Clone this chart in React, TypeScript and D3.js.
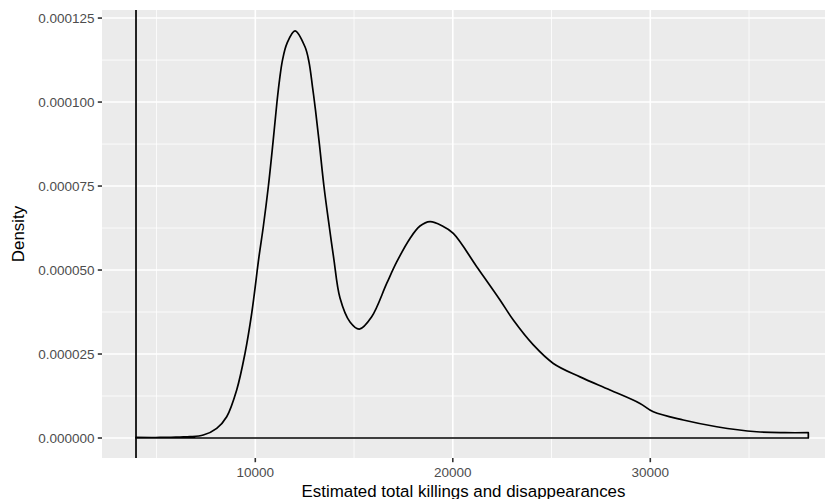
import React from "react";
import * as d3 from "d3";

const densityX = [3960, 5175, 6187, 6694, 7367, 8046, 8552, 9058, 9479, 9818, 10187, 10405, 10659, 10891, 11099, 11226, 11377, 11605, 12010, 12516, 12719, 12896, 13048, 13241, 13479, 13747, 13970, 14289, 14795, 15266, 15894, 16653, 17160, 17833, 18339, 18846, 19453, 20026, 21211, 22390, 23064, 24077, 25090, 26441, 27960, 29479, 30153, 31672, 33363, 35388, 36821, 38002];
const densityY = [0.2, 0.16, 0.3, 0.39, 0.89, 2.89, 6.34, 14.3, 25.2, 37.1, 53.96, 62.88, 74.79, 87.7, 100.08, 106.54, 112.49, 117.46, 121.21, 116.45, 111.9, 104.55, 97.61, 87.7, 74.79, 62.88, 53.57, 41.66, 34.52, 32.4, 36.1, 46.0, 52.4, 59.4, 63.1, 64.4, 63.2, 60.9, 51.0, 41.1, 35.1, 27.7, 22.2, 18.2, 14.3, 10.3, 7.8, 5.36, 3.36, 1.87, 1.58, 1.58].map((v) => v * 1e-6);

const xMajorTicks = [10000, 20000, 30000];
const xMinorTicks = [5000, 15000, 25000, 35000];
const yMajorTicks = [0, 0.000025, 0.00005, 0.000075, 0.0001, 0.000125];
const yMinorTicks = [0.0000125, 0.0000375, 0.0000625, 0.0000875, 0.0001125];
const vlineValue = 3960;

const xTitle = "Estimated total killings and disappearances";
const yTitle = "Density";

export default function App() {
  const W = 831, H = 499;
  const left = 102, right = 825, top = 10, bottom = 458;
  const x = d3.scaleLinear().domain([2238, 38846]).range([left, right]);
  const y = d3.scaleLinear().domain([-5.95e-6, 127.4e-6]).range([bottom, top]);

  const pts: [number, number][] = densityX.map((d, i) => [d, densityY[i]]);
  const line = d3
    .line<[number, number]>()
    .x((d) => x(d[0]))
    .y((d) => y(d[1]))
    .curve(d3.curveCatmullRom.alpha(0.5));
  const xmin = densityX[0];
  const xmax = densityX[densityX.length - 1];
  const pathD = `${line(pts)}L${x(xmax)},${y(0)}L${x(xmin)},${y(0)}Z`;

  const font = "'Liberation Sans', Arial, Helvetica, sans-serif";

  return (
    <svg width={W} height={H} style={{ position: "absolute", left: 0, top: 0, background: "#fff" }} fontFamily={font}>
      <rect x={left} y={top} width={right - left} height={bottom - top} fill="#EBEBEB" />
      {yMinorTicks.map((t) => (
        <line key={"ym" + t} x1={left} x2={right} y1={y(t)} y2={y(t)} stroke="#fff" strokeWidth={0.8} />
      ))}
      {xMinorTicks.map((t) => (
        <line key={"xm" + t} x1={x(t)} x2={x(t)} y1={top} y2={bottom} stroke="#fff" strokeWidth={0.8} />
      ))}
      {yMajorTicks.map((t) => (
        <line key={"yM" + t} x1={left} x2={right} y1={y(t)} y2={y(t)} stroke="#fff" strokeWidth={1.6} />
      ))}
      {xMajorTicks.map((t) => (
        <line key={"xM" + t} x1={x(t)} x2={x(t)} y1={top} y2={bottom} stroke="#fff" strokeWidth={1.6} />
      ))}
      <path d={pathD} fill="none" stroke="#000" strokeWidth={1.7} strokeLinejoin="round" />
      <line x1={x(vlineValue)} x2={x(vlineValue)} y1={top} y2={bottom} stroke="#000" strokeWidth={1.7} />

      {yMajorTicks.map((t) => (
        <g key={"yt" + t}>
          <line x1={left - 4.2} x2={left} y1={y(t)} y2={y(t)} stroke="#333" strokeWidth={1.6} />
          <text x={left - 7.5} y={y(t)} dy="0.36em" textAnchor="end" fontSize={13.5} fill="#4D4D4D">
            {t.toFixed(6)}
          </text>
        </g>
      ))}
      {xMajorTicks.map((t) => (
        <g key={"xt" + t}>
          <line x1={x(t)} x2={x(t)} y1={bottom} y2={bottom + 4.2} stroke="#333" strokeWidth={1.6} />
          <text x={x(t)} y={476.5} textAnchor="middle" fontSize={13.5} fill="#4D4D4D">
            {String(t)}
          </text>
        </g>
      ))}
      <text x={(left + right) / 2} y={496.5} textAnchor="middle" fontSize={16.9} fill="#000">
        {xTitle}
      </text>
      <text transform={`translate(23.5,${(top + bottom) / 2}) rotate(-90)`} textAnchor="middle" fontSize={16.9} fill="#000">
        {yTitle}
      </text>
    </svg>
  );
}
